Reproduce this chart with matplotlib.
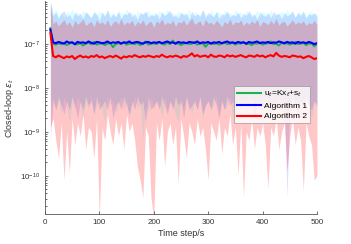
import numpy as np
import matplotlib
matplotlib.use("Agg")
import matplotlib.pyplot as plt

plt.rcParams['font.family'] = ['Liberation Sans', 'DejaVu Sans']

# time steps (every 5th step)
steps = np.arange(10, 501, 5)

# log10 of the mean curves
green_mean = [-6.65,-7.00,-7.02,-6.99,-7.01,-6.98,-7.03,-7.00,-6.97,-7.02,
              -7.01,-6.99,-7.04,-7.00,-6.98,-7.01,-6.96,-7.02,-7.00,-6.99,
              -7.03,-7.00,-6.98,-7.08,-7.01,-6.99,-7.00,-6.97,-7.02,-7.00,
              -6.99,-7.01,-6.98,-7.03,-7.00,-6.95,-7.02,-7.00,-6.99,-7.01,
              -6.97,-7.00,-7.02,-6.98,-7.01,-6.93,-7.00,-6.99,-7.03,-7.00,
              -6.98,-7.01,-7.00,-6.97,-7.02,-7.00,-6.99,-7.07,-7.00,-6.98,
              -7.01,-6.99,-7.02,-7.00,-6.97,-7.01,-7.00,-6.98,-7.02,-6.99,
              -7.00,-6.96,-7.01,-7.00,-7.03,-6.99,-7.00,-6.97,-7.02,-7.00,
              -6.99,-6.95,-7.01,-7.00,-7.04,-6.98,-7.00,-6.99,-7.02,-7.00,
              -6.96,-7.01,-7.00,-6.98,-7.03,-7.00,-6.99,-7.06,-7.01]
blue_mean = [-6.68,-6.97,-6.99,-6.96,-6.98,-7.00,-6.95,-6.98,-6.97,-7.01,
             -6.96,-6.98,-6.97,-6.99,-6.95,-6.98,-7.00,-6.96,-6.97,-6.99,
             -6.98,-6.95,-6.99,-6.97,-6.98,-6.96,-7.00,-6.97,-6.98,-6.95,
             -6.99,-6.97,-6.96,-6.98,-7.00,-6.97,-6.96,-6.99,-6.97,-6.98,
             -6.96,-6.99,-6.97,-6.95,-6.98,-6.97,-7.00,-6.96,-6.98,-6.97,
             -6.99,-6.96,-6.97,-6.98,-6.95,-6.99,-6.97,-6.98,-6.96,-7.00,
             -6.97,-6.98,-6.96,-6.99,-6.97,-6.95,-6.98,-6.97,-6.99,-6.96,
             -6.98,-6.97,-7.00,-6.96,-6.98,-6.97,-6.95,-6.99,-6.97,-6.98,
             -6.96,-6.99,-6.97,-6.98,-6.95,-6.97,-6.99,-6.96,-6.98,-6.97,
             -7.00,-6.96,-6.98,-6.97,-6.99,-6.96,-6.98,-7.01,-6.99]
red_mean = [-6.75,-7.28,-7.31,-7.27,-7.30,-7.33,-7.29,-7.31,-7.28,-7.35,
            -7.30,-7.27,-7.31,-7.29,-7.32,-7.28,-7.30,-7.26,-7.31,-7.29,
            -7.33,-7.30,-7.28,-7.31,-7.27,-7.30,-7.34,-7.29,-7.31,-7.28,
            -7.30,-7.26,-7.29,-7.31,-7.28,-7.30,-7.27,-7.29,-7.31,-7.28,
            -7.30,-7.25,-7.29,-7.31,-7.28,-7.30,-7.27,-7.29,-7.32,-7.28,
            -7.30,-7.27,-7.22,-7.29,-7.26,-7.30,-7.28,-7.27,-7.31,-7.25,
            -7.29,-7.30,-7.27,-7.28,-7.31,-7.26,-7.29,-7.27,-7.30,-7.28,
            -7.26,-7.29,-7.31,-7.27,-7.28,-7.30,-7.26,-7.29,-7.27,-7.31,
            -7.28,-7.26,-7.29,-7.21,-7.27,-7.30,-7.28,-7.29,-7.31,-7.27,
            -7.28,-7.30,-7.29,-7.33,-7.30,-7.28,-7.31,-7.35,-7.33]

# log10 of the band edges
green_hi = [-6.02,-6.30,-6.22,-6.38,-6.28,-6.42,-6.25,-6.33,-6.20,-6.36,
            -6.27,-6.40,-6.24,-6.32,-6.29,-6.44,-6.23,-6.35,-6.26,-6.31,
            -6.39,-6.22,-6.34,-6.28,-6.41,-6.25,-6.30,-6.37,-6.21,-6.33,
            -6.27,-6.43,-6.24,-6.36,-6.29,-6.32,-6.22,-6.38,-6.26,-6.40,
            -6.23,-6.31,-6.35,-6.20,-6.34,-6.28,-6.42,-6.25,-6.33,-6.29,
            -6.37,-6.21,-6.36,-6.27,-6.31,-6.41,-6.24,-6.30,-6.38,-6.22,
            -6.35,-6.28,-6.26,-6.43,-6.23,-6.32,-6.29,-6.37,-6.21,-6.34,
            -6.27,-6.40,-6.24,-6.33,-6.30,-6.36,-6.22,-6.39,-6.26,-6.31,
            -6.35,-6.23,-6.42,-6.28,-6.33,-6.25,-6.37,-6.21,-6.34,-6.29,
            -6.40,-6.26,-6.32,-6.24,-6.38,-6.30,-6.27,-6.35,-6.31]
green_lo = [-8.4,-8.2,-8.5,-8.3,-8.6,-8.2,-8.4,-8.8,-8.3,-8.5,
            -8.2,-8.4,-8.7,-8.3,-8.5,-8.2,-8.6,-8.4,-8.3,-8.5,
            -8.8,-8.2,-8.4,-8.3,-8.6,-8.4,-8.2,-8.5,-8.3,-8.7,
            -8.4,-8.2,-8.5,-8.3,-9.2,-8.4,-8.6,-8.2,-8.5,-8.3,
            -8.4,-8.7,-8.2,-8.5,-8.3,-8.4,-8.6,-8.8,-8.3,-8.5,
            -8.2,-8.4,-8.6,-8.3,-8.5,-8.2,-8.7,-8.4,-8.3,-8.5,
            -8.4,-8.2,-8.6,-8.3,-8.5,-8.4,-8.2,-8.7,-8.3,-8.5,
            -8.4,-8.3,-8.6,-8.2,-8.5,-8.4,-8.3,-8.7,-8.2,-8.5,
            -8.4,-8.3,-8.6,-8.2,-8.5,-8.4,-8.8,-8.3,-8.5,-8.2,
            -8.4,-8.6,-8.3,-8.5,-8.2,-8.4,-8.7,-8.3,-8.5]
blue_hi = [-6.05,-6.36,-6.28,-6.42,-6.31,-6.25,-6.39,-6.33,-6.45,-6.27,
           -6.37,-6.30,-6.44,-6.26,-6.35,-6.40,-6.29,-6.33,-6.47,-6.28,
           -6.36,-6.24,-6.41,-6.32,-6.38,-6.27,-6.43,-6.30,-6.35,-6.26,
           -6.39,-6.31,-6.46,-6.28,-6.34,-6.25,-6.40,-6.33,-6.37,-6.29,
           -6.44,-6.27,-6.36,-6.31,-6.24,-6.39,-6.33,-6.42,-6.28,-6.35,
           -6.30,-6.45,-6.26,-6.38,-6.32,-6.36,-6.23,-6.41,-6.29,-6.34,
           -6.39,-6.27,-6.43,-6.31,-6.35,-6.25,-6.40,-6.33,-6.37,-6.28,
           -6.42,-6.30,-6.36,-6.24,-6.39,-6.32,-6.45,-6.27,-6.34,-6.38,
           -6.29,-6.41,-6.26,-6.35,-6.31,-6.43,-6.28,-6.37,-6.33,-6.25,
           -6.40,-6.30,-6.36,-6.27,-6.42,-6.32,-6.35,-6.29,-6.38]
blue_lo = [-9.2,-8.3,-8.5,-8.2,-8.4,-8.6,-8.3,-8.5,-8.2,-8.4,
           -8.7,-8.3,-8.5,-8.2,-8.4,-8.3,-8.6,-8.2,-8.5,-8.4,
           -8.3,-8.5,-8.2,-8.7,-8.4,-8.3,-8.5,-8.2,-8.4,-8.6,
           -8.3,-8.5,-8.2,-8.4,-8.3,-8.8,-8.2,-8.5,-8.4,-8.3,
           -8.5,-8.2,-8.4,-8.6,-8.3,-8.5,-8.2,-8.4,-8.3,-8.7,
           -8.2,-8.5,-8.4,-8.3,-8.5,-8.2,-8.6,-8.4,-8.3,-8.5,
           -8.2,-8.4,-8.7,-8.3,-8.5,-8.2,-8.4,-8.3,-8.6,-8.2,
           -8.5,-8.4,-8.3,-8.5,-8.2,-8.7,-8.4,-8.3,-8.5,-8.2,
           -8.4,-8.6,-8.3,-8.5,-8.2,-8.4,-8.3,-10.5,-8.5,-8.2,
           -8.4,-8.6,-8.3,-8.5,-8.2,-8.4,-8.5,-8.3,-8.4]
red_hi = [-6.10,-6.55,-6.48,-6.60,-6.52,-6.45,-6.58,-6.50,-6.63,-6.47,
          -6.56,-6.51,-6.44,-6.59,-6.53,-6.49,-6.62,-6.46,-6.55,-6.50,
          -6.57,-6.45,-6.61,-6.52,-6.48,-6.56,-6.43,-6.58,-6.51,-6.54,
          -6.47,-6.60,-6.50,-6.55,-6.46,-6.59,-6.52,-6.49,-6.63,-6.48,
          -6.54,-6.44,-6.57,-6.51,-6.55,-6.47,-6.61,-6.50,-6.53,-6.46,
          -6.58,-6.49,-6.42,-6.56,-6.52,-6.48,-6.60,-6.45,-6.54,-6.51,
          -6.57,-6.47,-6.53,-6.62,-6.49,-6.55,-6.44,-6.58,-6.50,-6.53,
          -6.46,-6.59,-6.51,-6.56,-6.48,-6.54,-6.45,-6.61,-6.50,-6.52,
          -6.57,-6.47,-6.55,-6.43,-6.58,-6.51,-6.49,-6.60,-6.53,-6.46,
          -6.56,-6.50,-6.54,-6.48,-6.59,-6.52,-6.55,-6.47,-6.57]
red_lo = [-8.9,-8.7,-9.2,-9.6,-8.8,-10.1,-9.0,-9.95,-8.7,-9.3,
          -8.8,-9.1,-8.6,-9.4,-8.9,-9.0,-9.6,-8.7,-11.0,-8.9,
          -9.2,-8.6,-9.0,-9.3,-8.7,-9.1,-8.8,-9.4,-8.6,-9.0,
          -8.8,-9.2,-9.8,-10.1,-10.5,-8.9,-9.1,-10.5,-11.0,-8.8,
          -9.2,-8.7,-9.8,-9.0,-8.8,-9.3,-8.9,-10.2,-8.7,-9.1,
          -9.6,-8.8,-9.0,-9.3,-8.7,-9.1,-8.9,-9.4,-10.1,-8.8,
          -9.0,-9.2,-8.7,-9.5,-8.9,-9.1,-8.6,-9.3,-8.9,-10.0,
          -8.8,-10.5,-9.0,-9.2,-8.7,-9.4,-8.9,-9.1,-8.8,-9.3,
          -10.3,-8.9,-9.1,-8.7,-9.4,-9.0,-8.8,-9.9,-9.1,-8.7,
          -9.3,-8.9,-9.2,-10.35,-8.8,-9.1,-9.3,-10.1,-10.0]

labels = ['u$_t$=Kx$_t$+s$_t$', 'Algorithm 1', 'Algorithm 2']

def p(v):
    return 10.0 ** np.asarray(v)

fig = plt.figure(figsize=(3.51, 2.44), dpi=100)
ax = fig.add_axes([0.128, 0.123, 0.775, 0.873])

ax.fill_between(steps, p(green_lo), p(green_hi), color=(0.0, 1.0, 1.0), alpha=0.14, lw=0)
ax.fill_between(steps, p(blue_lo), p(blue_hi), color=(0.0, 0.0, 1.0), alpha=0.13, lw=0)
ax.fill_between(steps, p(red_lo), p(red_hi), color=(1.0, 0.0, 0.0), alpha=0.22, lw=0)

ax.plot(steps, p(green_mean), color=(0.1, 0.7, 0.3), lw=1.5, label=labels[0])
ax.plot(steps, p(blue_mean), color='#0000ff', lw=1.5, label=labels[1])
ax.plot(steps, p(red_mean), color='#ff0000', lw=1.5, label=labels[2])

ax.set_yscale('log')
ax.set_xlim(0, 500)
ax.set_ylim(10 ** -10.87, 10 ** -6.03)
ax.set_xticks([0, 100, 200, 300, 400, 500])
ax.set_yticks([1e-10, 1e-9, 1e-8, 1e-7])

for s in ['top', 'right']:
    ax.spines[s].set_visible(False)
for s in ['left', 'bottom']:
    ax.spines[s].set_color('#555555')
    ax.spines[s].set_linewidth(0.6)
ax.tick_params(direction='in', which='both', labelsize=5.8, colors='#333333',
               width=0.5, length=2.5)
ax.tick_params(which='minor', length=1.5)

ax.set_xlabel('Time step/s', fontsize=6.5, color='#333333', labelpad=2)
ax.set_ylabel('Closed-loop $\\epsilon_t$', fontsize=6.5, color='#333333', labelpad=3)

leg = ax.legend(loc='upper right', bbox_to_anchor=(0.975, 0.603), fontsize=6,
                frameon=True, fancybox=False, edgecolor='#888888',
                borderpad=0.35, handlelength=2.9, labelspacing=0.35,
                handletextpad=0.35, borderaxespad=0)
leg.get_frame().set_linewidth(0.5)
for line in leg.get_lines():
    line.set_linewidth(1.5)

fig.savefig('out.png', dpi=100)
